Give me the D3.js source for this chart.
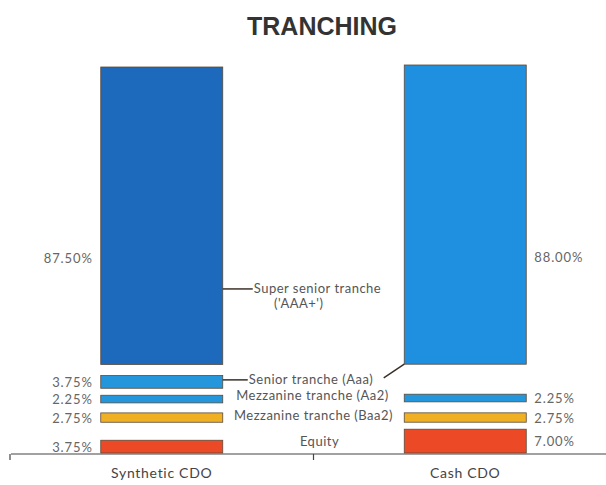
<!DOCTYPE html>
<html><head><meta charset="utf-8">
<script src="https://cdn.jsdelivr.net/npm/d3@7"></script>
<style>body{margin:0;background:#fff}svg{display:block}</style>
</head><body><svg id="c" width="606" height="485"></svg>
<script>
const categories = ["Synthetic CDO", "Cash CDO"];
const tranches = ["Super senior", "Senior", "Mezzanine Aa2", "Mezzanine Baa2", "Equity"];
const syntheticValues = [87.5, 3.75, 2.25, 2.75, 3.75];
const cashValues = [88.0, 0, 2.25, 2.75, 7.0];
const syntheticLabels = ["87.50%", "3.75%", "2.25%", "2.75%", "3.75%"];
const cashLabels = ["88.00%", "", "2.25%", "2.75%", "7.00%"];
const trancheNames = ["Super senior tranche", "Senior tranche (Aaa)", "Mezzanine tranche (Aa2)", "Mezzanine tranche (Baa2)", "Equity"];

const svg = d3.select("#c");
const baseline = 453, topY = 67;
// spacing (px) above each tranche, as drawn in the original layout
const gapsPx = {
  "Synthetic CDO": [0, 11, 7, 10, 18],
  "Cash CDO": [0, 15, 15, 11, 7]
};
const font = "Lato, 'Open Sans', sans-serif";
const textColor = "#555";

const x = d3.scaleBand().domain(categories).range([10, 617]).padding(0);
const barW = 122;
const k = d3.scaleLinear().domain([0, 100]).range([0, (baseline - topY) - d3.sum(gapsPx["Synthetic CDO"])]);

const colors = {
  "Synthetic CDO": ["#1d69bb", "#2497dc", "#2497dc", "#f0b024", "#ec4a27"],
  "Cash CDO": ["#1f90df", "#2497dc", "#2497dc", "#f0b024", "#ec4a27"]
};

function layout(vals, gaps) {
  const segs = [];
  let y = baseline;
  for (let i = vals.length - 1; i >= 0; i--) {
    const h = k(vals[i]);
    segs[i] = {y0: y - h, y1: y, v: vals[i], i: i};
    y = y - h - gaps[i];
  }
  return segs;
}
const data = {
  "Synthetic CDO": layout(syntheticValues, gapsPx["Synthetic CDO"]),
  "Cash CDO": layout(cashValues, gapsPx["Cash CDO"])
};
const labels = {"Synthetic CDO": syntheticLabels, "Cash CDO": cashLabels};

// title
svg.append("text").attr("x", 322).attr("y", 35).attr("text-anchor", "middle")
  .attr("font-family", "'Liberation Sans', Arial, sans-serif").attr("font-weight", "bold")
  .attr("font-size", 25).attr("fill", "#333").text("TRANCHING");

// bars
categories.forEach(cat => {
  const cx = x(cat) + x.bandwidth() / 2;
  const g = svg.append("g");
  g.selectAll("rect").data(data[cat].filter(d => d.v > 0)).join("rect")
    .attr("x", cx - barW / 2).attr("width", barW)
    .attr("y", d => d.y0).attr("height", d => d.y1 - d.y0)
    .attr("fill", d => colors[cat][d.i])
    .attr("stroke", "#5a4a3a").attr("stroke-width", 0.8);
  data[cat].forEach((d, i) => {
    if (!labels[cat][i]) return;
    const ly = i === 0 ? d.y0 + (d.y1 - d.y0) * 0.66 : (d.y0 + d.y1) / 2 + 5;
    const left = cat === categories[0];
    svg.append("text")
      .attr("x", left ? cx - barW / 2 - 8 : cx + barW / 2 + 8)
      .attr("y", ly).attr("text-anchor", left ? "end" : "start")
      .attr("font-family", font).attr("font-size", 13).attr("fill", "#666")
      .attr("letter-spacing", 0.9)
      .text(labels[cat][i]);
  });
});

const sCat = categories[0], cCat = categories[1];
const sRight = x(sCat) + x.bandwidth() / 2 + barW / 2;
const cLeft = x(cCat) + x.bandwidth() / 2 - barW / 2;
const midX = (sRight + cLeft) / 2;
const sd = data[sCat], cd = data[cCat];
const lab = (tx, ty, anchor, t) => svg.append("text").attr("x", tx).attr("y", ty)
  .attr("text-anchor", anchor).attr("font-family", font).attr("font-size", 13)
  .attr("fill", textColor).attr("letter-spacing", 0.5).text(t);

// super senior
const ssY = sd[0].y0 + (sd[0].y1 - sd[0].y0) * 0.746;
svg.append("line").attr("x1", sRight).attr("x2", sRight + 30).attr("y1", ssY).attr("y2", ssY)
  .attr("stroke", "#3a3028").attr("stroke-width", 1.5);
lab(sRight + 31, ssY + 4, "start", trancheNames[0]);
lab(sRight + 76, ssY + 19, "middle", "('AAA+')");

// senior
const snY = (sd[1].y0 + sd[1].y1) / 2 - 2;
svg.append("line").attr("x1", sRight).attr("x2", sRight + 25).attr("y1", snY).attr("y2", snY)
  .attr("stroke", "#3a3028").attr("stroke-width", 1.5);
lab(sRight + 26, snY + 4, "start", trancheNames[1]);
svg.append("line").attr("x1", sRight + 161).attr("y1", snY - 2)
  .attr("x2", cLeft).attr("y2", cd[0].y1)
  .attr("stroke", "#3a3028").attr("stroke-width", 1.5);

// mezzanine + equity
lab(midX - 1, sd[2].y1 - 3, "middle", trancheNames[2]);
lab(midX, sd[3].y1 - 2, "middle", trancheNames[3]);
lab(midX + 6, (sd[4].y0 + sd[4].y1) / 2 - 1, "middle", trancheNames[4]);

// axis
const axisY = baseline + 1;
svg.append("line").attr("x1", 11).attr("x2", 606).attr("y1", axisY).attr("y2", axisY)
  .attr("stroke", "#444").attr("stroke-width", 1.2);
[x(sCat), x(cCat)].forEach(tx => svg.append("line").attr("x1", tx).attr("x2", tx)
  .attr("y1", axisY).attr("y2", axisY + 6).attr("stroke", "#444").attr("stroke-width", 1.2));
categories.forEach(cat => svg.append("text")
  .attr("x", x(cat) + x.bandwidth() / 2).attr("y", 478).attr("text-anchor", "middle")
  .attr("font-family", font).attr("font-size", 14).attr("fill", "#444")
  .attr("letter-spacing", 0.7).text(cat));
</script></body></html>
